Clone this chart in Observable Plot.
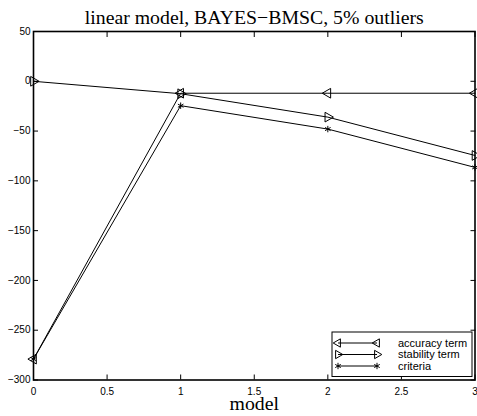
<!DOCTYPE html>
<html>
<head>
<meta charset="utf-8">
<script src="https://cdn.jsdelivr.net/npm/d3@7"></script>
<script src="https://cdn.jsdelivr.net/npm/@observablehq/plot@0.6"></script>
<style>
  body { margin: 0; background: #fff; }
  #chart { width: 477px; height: 416px; }
</style>
</head>
<body>
<div id="chart"></div>
<script>
// Model index and the three per-model terms
const models = [0, 1, 2, 3];
const accuracy = [-279, -12, -12, -12];
const stability = [0, -12.5, -36, -74.5];
const criteria = [-279, -24.5, -48, -86.5];

const seriesNames = ["accuracy term", "stability term", "criteria"];
const xTicks = [0, 0.5, 1, 1.5, 2, 2.5, 3];
const yTicks = [-300, -250, -200, -150, -100, -50, 0, 50];
const title = "linear model, BAYES\u2212BMSC, 5% outliers";
const xLabel = "model";

const seriesValues = [accuracy, stability, criteria];
const rows = seriesNames.flatMap((name, s) =>
  models.map((m, i) => ({ model: m, value: seriesValues[s][i], series: name }))
);
const bySeries = name => rows.filter(d => d.series === name);

const serif = "'Liberation Serif', 'Times New Roman', serif";
const noLabel = () => "";

const plot = Plot.plot({
  width: 477,
  height: 416,
  marginLeft: 33,
  marginRight: 2.5,
  marginTop: 31,
  marginBottom: 36.5,
  style: { fontFamily: "'Liberation Sans', Arial, sans-serif", fontSize: "10px", color: "#000", background: "#fff" },
  x: { domain: [0, 3] },
  y: { domain: [-300, 50] },
  marks: [
    // inward ticks on all four sides
    Plot.axisX(xTicks, { anchor: "bottom", tickSize: -5, tickPadding: 12.5, label: null, tickFormat: d => String(d) }),
    Plot.axisX(xTicks, { anchor: "top", tickSize: -5, tickFormat: noLabel, label: null }),
    Plot.axisY(yTicks, { anchor: "left", tickSize: -5, tickPadding: 8, label: null }),
    Plot.axisY(yTicks, { anchor: "right", tickSize: -5, tickFormat: noLabel, label: null }),
    Plot.frame({ stroke: "#000", strokeWidth: 1.6 }),
    Plot.line(rows, { x: "model", y: "value", z: "series", stroke: "#000", strokeWidth: 1 }),
    Plot.dot(bySeries(seriesNames[0]), { x: "model", y: "value", symbol: "triangle", rotate: -90, r: 3.6, stroke: "#000", fill: "none", strokeWidth: 1 }),
    Plot.dot(bySeries(seriesNames[1]), { x: "model", y: "value", symbol: "triangle", rotate: 90, r: 3.6, stroke: "#000", fill: "none", strokeWidth: 1 }),
    Plot.dot(bySeries(seriesNames[2]), { x: "model", y: "value", symbol: "asterisk", r: 3, stroke: "#000", strokeWidth: 1 }),
    Plot.text([title], { frameAnchor: "top", lineAnchor: "middle", dy: -14.3, fontFamily: serif, fontSize: 19.8, fill: "#000" }),
    Plot.text([xLabel], { frameAnchor: "bottom", lineAnchor: "middle", dy: 23.8, fontFamily: serif, fontSize: 19.8, fill: "#000" })
  ]
});

document.getElementById("chart").appendChild(plot);

// Legend box in the lower-right corner of the axes
const svg = d3.select(plot);
const legend = svg.append("g").attr("class", "legend").attr("text-anchor", "start");
legend.append("rect")
  .attr("x", 332).attr("y", 332).attr("width", 140).attr("height", 44.5)
  .attr("fill", "#fff").attr("stroke", "#000").attr("stroke-width", 1);

const legendSymbols = [
  { type: d3.symbolTriangle, rotate: -90, size: 30, fill: "none" },
  { type: d3.symbolTriangle, rotate: 90, size: 30, fill: "none" },
  { type: d3.symbolAsterisk, rotate: 0, size: 28, fill: "none" }
];
seriesNames.forEach((name, i) => {
  const y = 343 + i * 11.5;
  const g = legend.append("g");
  g.append("line").attr("x1", 338).attr("x2", 377).attr("y1", y).attr("y2", y)
    .attr("stroke", "#000").attr("stroke-width", 1);
  [338, 377].forEach(x => {
    g.append("path")
      .attr("d", d3.symbol(legendSymbols[i].type, legendSymbols[i].size)())
      .attr("transform", `translate(${x},${y}) rotate(${legendSymbols[i].rotate})`)
      .attr("fill", legendSymbols[i].fill).attr("stroke", "#000").attr("stroke-width", 1);
  });
  g.append("text").attr("x", 398).attr("y", y).attr("dy", "0.35em")
    .attr("font-size", 11).attr("fill", "#000").text(name);
});
</script>
</body>
</html>
